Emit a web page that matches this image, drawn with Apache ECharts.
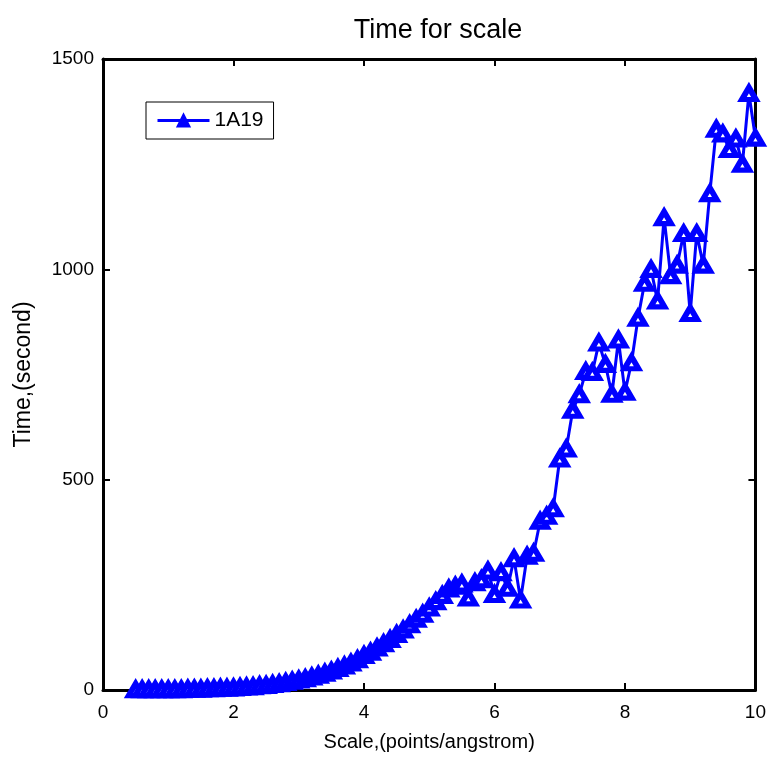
<!DOCTYPE html>
<html>
<head>
<meta charset="utf-8">
<script src="https://cdn.jsdelivr.net/npm/echarts@6/dist/echarts.min.js"></script>
<style>html,body{margin:0;padding:0;background:#fff}#c{width:769px;height:757px}</style>
</head>
<body>
<div id="c"></div>
<script>
var seriesName = '1A19';
var scaleValues = [
  0.5,0.6,0.7,0.8,0.9,1.0,1.1,1.2,1.3,1.4,1.5,1.6,1.7,1.8,1.9,2.0,
  2.1,2.2,2.3,2.4,2.5,2.6,2.7,2.8,2.9,3.0,3.1,3.2,3.3,3.4,3.5,3.6,
  3.7,3.8,3.9,4.0,4.1,4.2,4.3,4.4,4.5,4.6,4.7,4.8,4.9,5.0,5.1,5.2,
  5.3,5.4,5.5,5.6,5.7,5.8,5.9,6.0,6.1,6.2,6.3,6.4,6.5,6.6,6.7,6.8,
  6.9,7.0,7.1,7.2,7.3,7.4,7.5,7.6,7.7,7.8,7.9,8.0,8.1,8.2,8.3,8.4,
  8.5,8.6,8.7,8.8,8.9,9.0,9.1,9.2,9.3,9.4,9.5,9.6,9.7,9.8,9.9,10.0
];
var timeValues = [
  1,1,1,1,1,1,1,1,2,2,2,3,3,4,4,5,
  6,7,8,10,11,13,15,18,21,24,27,31,35,40,45,51,
  57,64,72,82,90,100,110,120,132,143,155,168,180,195,210,225,
  240,247,252,219,255,262,283,227,279,242,312,214,318,325,401,413,
  431,549,573,665,702,757,755,825,774,703,832,708,778,884,967,1000,
  925,1123,985,1010,1085,895,1085,1010,1180,1333,1322,1285,1310,1250,1418,1312
];
var xTicks = { min: 0, max: 10, interval: 2 };
var yTicks = { min: 0, max: 1500, interval: 500 };

var FONT = '"Liberation Sans", Arial, sans-serif';
var data = scaleValues.map(function (x, i) { return [x, timeValues[i]]; });

var axisLineStyle = { show: true, onZero: false, lineStyle: { color: '#000', width: 3 } };
var tickStyle = { show: true, inside: true, length: 7, lineStyle: { color: '#000', width: 2 } };
var plainNum = function (v) { return String(v); };

var chart = echarts.init(document.getElementById('c'), null, { renderer: 'canvas' });
chart.setOption({
  animation: false,
  backgroundColor: '#fff',
  title: {
    text: 'Time for scale',
    left: 433, textAlign: 'center',
    top: 12,
    textStyle: { fontFamily: FONT, fontSize: 27, fontWeight: 'normal', color: '#000' }
  },
  grid: { left: 103, top: 59, right: 8, bottom: 62, containLabel: false },
  legend: {
    left: 146, top: 102,
    data: [seriesName],
    borderColor: '#000', borderWidth: 1,
    padding: [8, 10, 8, 10],
    itemWidth: 52, itemHeight: 15,
    itemGap: 8,
    lineStyle: { width: 3, color: '#0000ff' },
    itemStyle: { color: '#0000ff', borderColor: '#0000ff', borderWidth: 2 },
    textStyle: { fontFamily: FONT, fontSize: 21, color: '#000' }
  },
  xAxis: [{
    type: 'value', position: 'bottom',
    min: xTicks.min, max: xTicks.max, interval: xTicks.interval,
    axisLine: axisLineStyle, axisTick: tickStyle,
    axisLabel: { fontFamily: FONT, fontSize: 19, color: '#000', margin: 13, formatter: plainNum },
    splitLine: { show: false },
    name: 'Scale,(points/angstrom)', nameLocation: 'middle', nameGap: 42,
    nameTextStyle: { fontFamily: FONT, fontSize: 20, color: '#000' }
  }, {
    type: 'value', position: 'top',
    min: xTicks.min, max: xTicks.max, interval: xTicks.interval,
    axisLine: axisLineStyle, axisTick: tickStyle,
    axisLabel: { show: false }, splitLine: { show: false }
  }],
  yAxis: [{
    type: 'value', position: 'left',
    min: yTicks.min, max: yTicks.max, interval: yTicks.interval,
    axisLine: axisLineStyle, axisTick: tickStyle,
    axisLabel: { fontFamily: FONT, fontSize: 19, color: '#000', margin: 9, formatter: plainNum },
    splitLine: { show: false },
    name: 'Time,(second)', nameLocation: 'middle', nameGap: 68,
    nameTextStyle: { fontFamily: FONT, fontSize: 23, color: '#000' }
  }, {
    type: 'value', position: 'right',
    min: yTicks.min, max: yTicks.max, interval: yTicks.interval,
    axisLine: axisLineStyle, axisTick: tickStyle,
    axisLabel: { show: false }, splitLine: { show: false }
  }],
  series: [{
    name: seriesName,
    type: 'line',
    xAxisIndex: 0, yAxisIndex: 0,
    data: data,
    symbol: 'triangle',
    symbolSize: [14, 12],
    showAllSymbol: true,
    lineStyle: { color: '#0000ff', width: 3 },
    itemStyle: { color: '#ffffff', borderColor: '#0000ff', borderWidth: 5.5 },
    emphasis: { disabled: true },
    z: 3
  }]
});
</script>
</body>
</html>
